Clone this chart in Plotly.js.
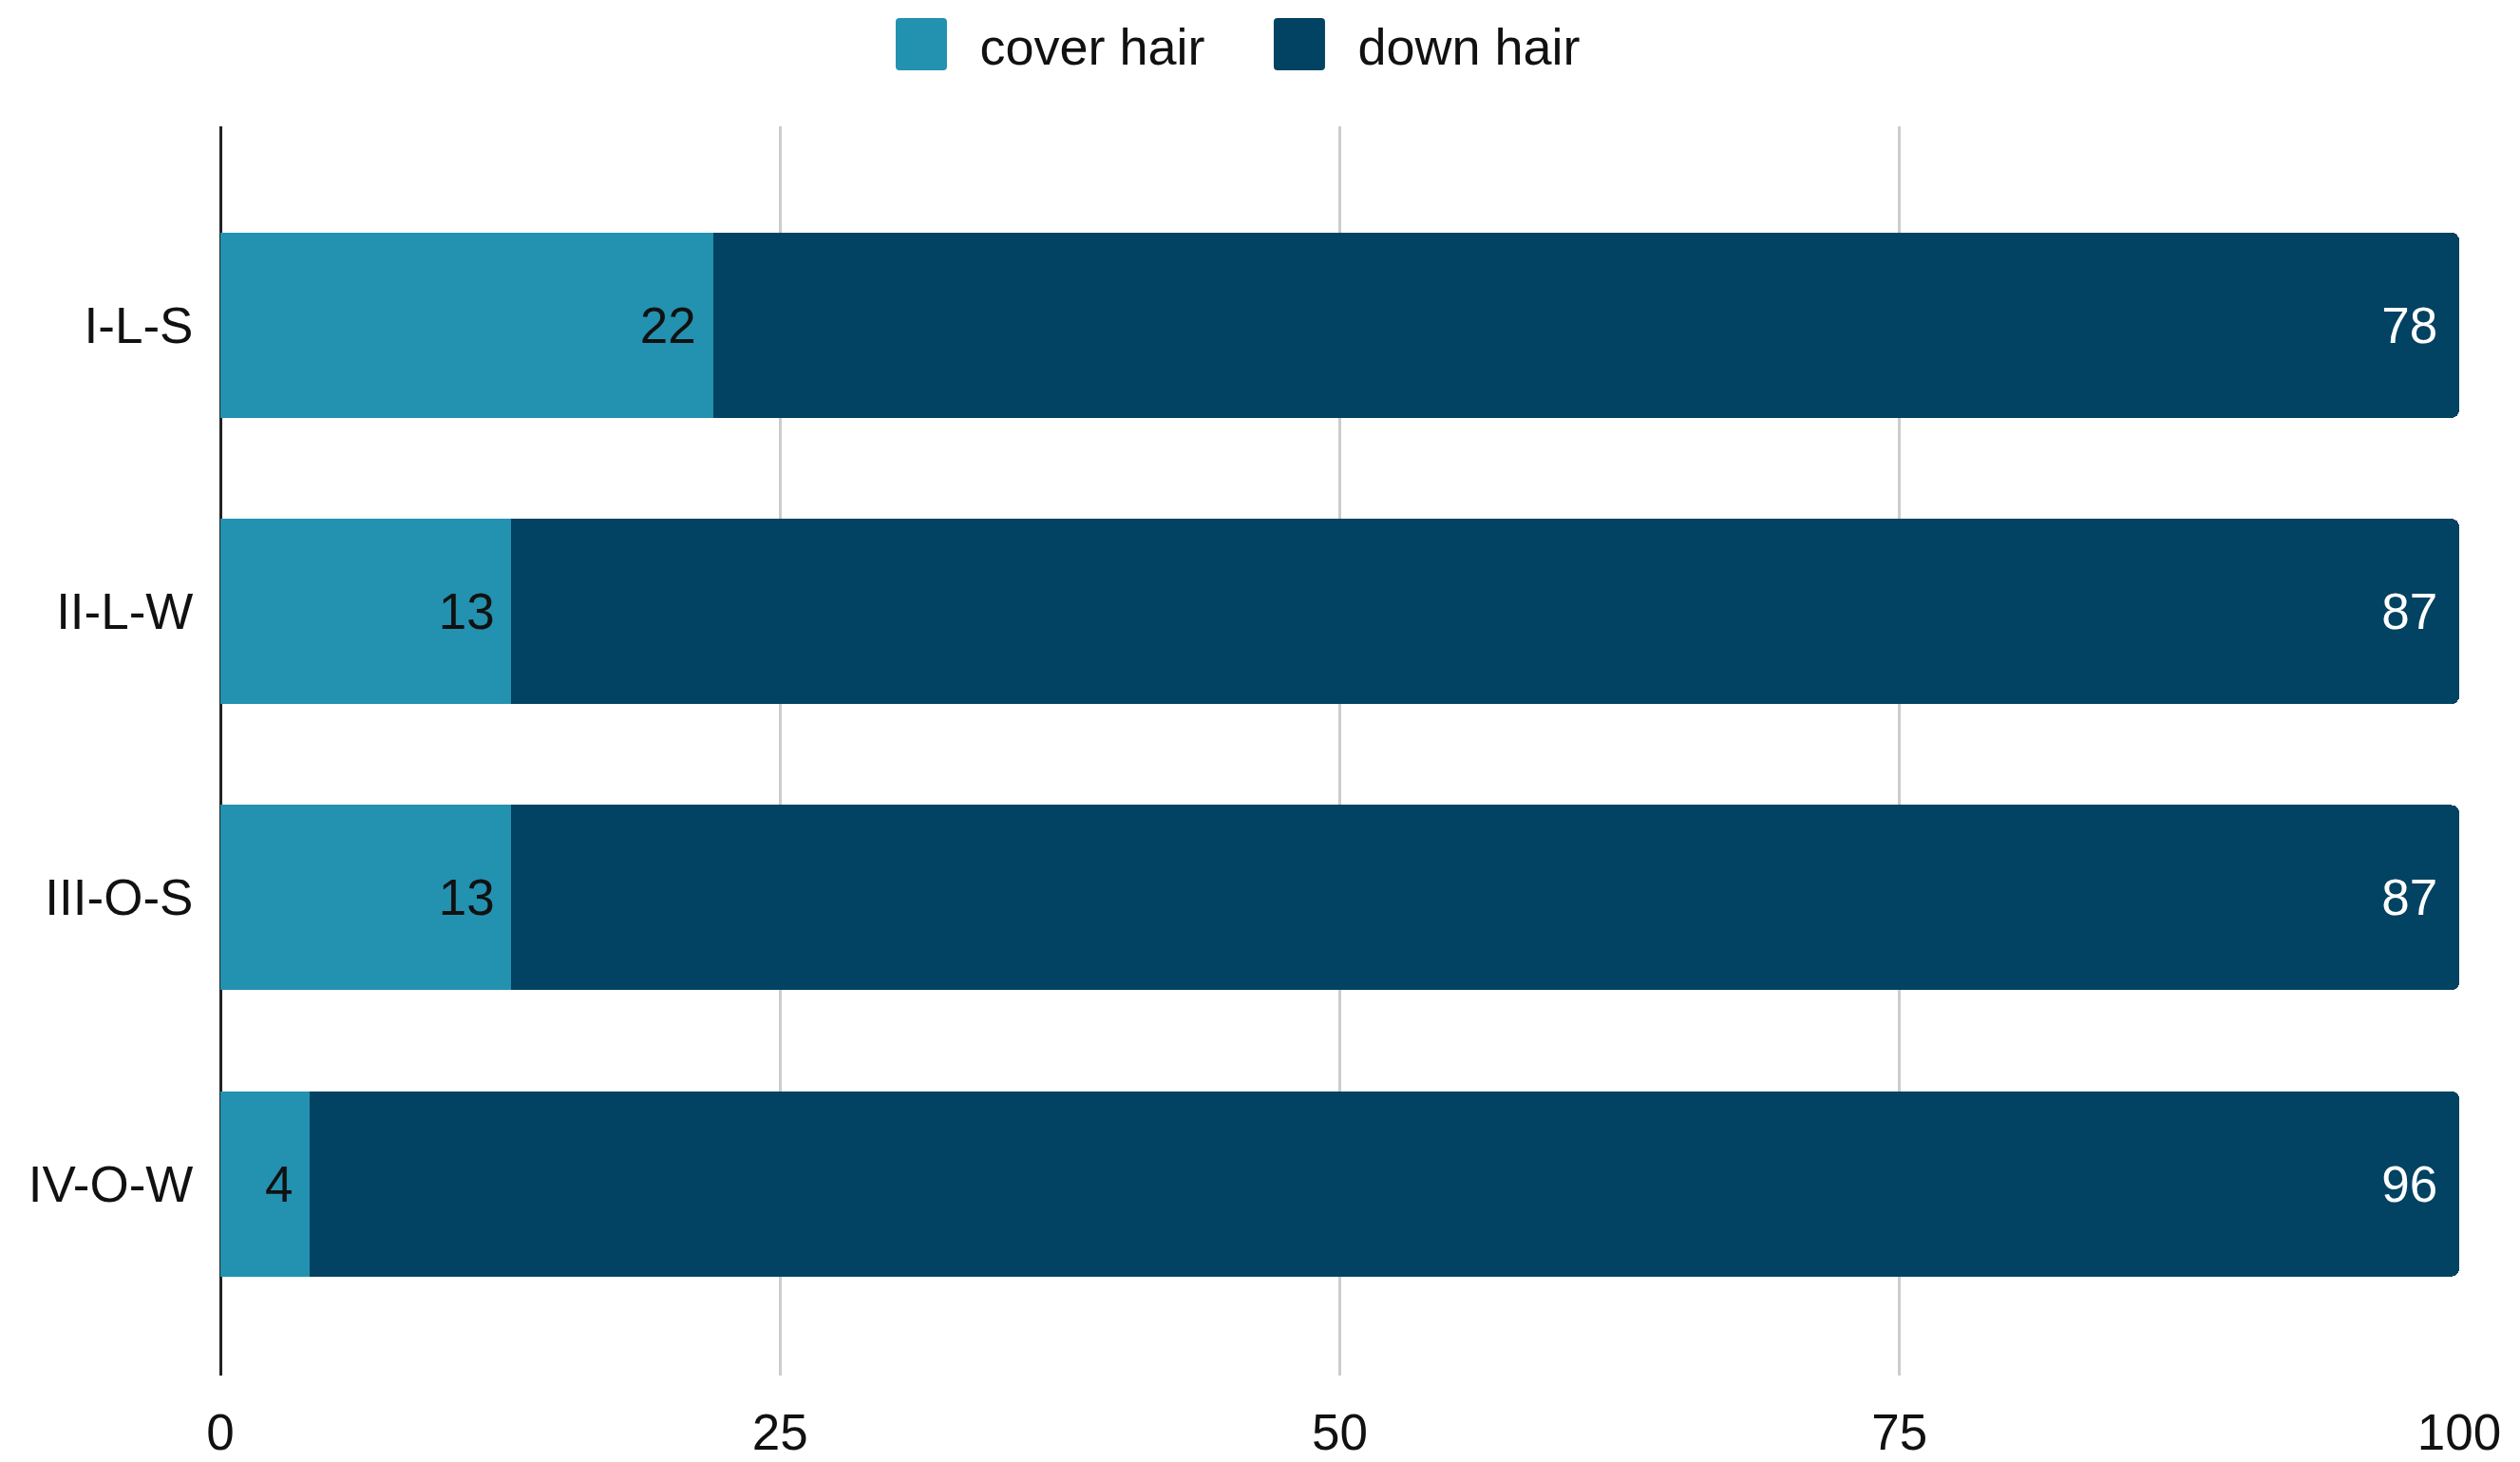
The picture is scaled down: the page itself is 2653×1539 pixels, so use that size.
<!DOCTYPE html>
<html>
<head>
<meta charset="utf-8">
<script src="https://cdn.plot.ly/plotly-3.0.1.min.js"></script>
<style>html,body{margin:0;padding:0;background:#fff;}#chart{width:2653px;height:1539px;}</style>
</head>
<body>
<div id="chart"></div>
<script>
const categories = ["I-L-S", "II-L-W", "III-O-S", "IV-O-W"];
const coverHair = [22, 13, 13, 4];
const downHair = [78, 87, 87, 96];
const xTicks = [0, 25, 50, 75, 100];

const FONT = "Liberation Sans, Arial, sans-serif";
const FS = 53;

const traces = [
  {
    type: "bar", orientation: "h", name: "cover hair",
    y: categories, x: coverHair,
    marker: {color: "#2391b0"},
    texttemplate: "%{x}\u00a0", textposition: "inside", insidetextanchor: "end",
    textangle: 0, constraintext: "none",
    insidetextfont: {family: FONT, size: FS, color: "#111"}
  },
  {
    type: "bar", orientation: "h", name: "down hair",
    y: categories, x: downHair,
    marker: {color: "#024262"},
    texttemplate: "%{x}\u00a0", textposition: "inside", insidetextanchor: "end",
    textangle: 0, constraintext: "none",
    insidetextfont: {family: FONT, size: FS, color: "#ffffff"}
  }
];

const layout = {
  width: 2653, height: 1539,
  margin: {l: 232, r: 64, t: 133, b: 91, autoexpand: false},
  barmode: "stack",
  bargap: 0.353,
  barcornerradius: 8,
  paper_bgcolor: "#ffffff", plot_bgcolor: "#ffffff",
  font: {family: FONT, size: FS, color: "#111"},
  hovermode: false,
  showlegend: true,
  legend: {
    orientation: "h", x: 0.287, xanchor: "left", y: 1.0655, yanchor: "middle",
    font: {family: FONT, size: 54, color: "#111"},
    itemwidth: 113, traceorder: "normal", entrywidth: 270
  },
  xaxis: {
    range: [0, 100], tickvals: xTicks, ticktext: xTicks.map(String),
    showgrid: true, gridcolor: "#cccccc", gridwidth: 3,
    zeroline: true, zerolinecolor: "#222222", zerolinewidth: 3,
    showline: false,
    ticks: "outside", ticklen: 13, tickcolor: "rgba(0,0,0,0)",
    tickfont: {family: FONT, size: FS, color: "#111"}
  },
  yaxis: {
    type: "category", categoryorder: "array", categoryarray: categories,
    range: [3.67, -0.695],
    showgrid: false, zeroline: false, showline: false,
    ticks: "outside", ticklen: 17, tickcolor: "rgba(0,0,0,0)",
    tickfont: {family: FONT, size: FS, color: "#111"}
  }
};

Plotly.newPlot("chart", traces, layout, {displayModeBar: false, staticPlot: true}).then(function(gd){
  document.querySelectorAll("#chart .legend .legendpoints path").forEach(function(p){
    p.setAttribute("d", "M27,23.5A4,4 0 0 1 23,27.5H-23A4,4 0 0 1 -27,23.5V-23.5A4,4 0 0 1 -23,-27.5H23A4,4 0 0 1 27,-23.5Z");
    p.style.strokeWidth = "0";
  });
});
</script>
</body>
</html>
